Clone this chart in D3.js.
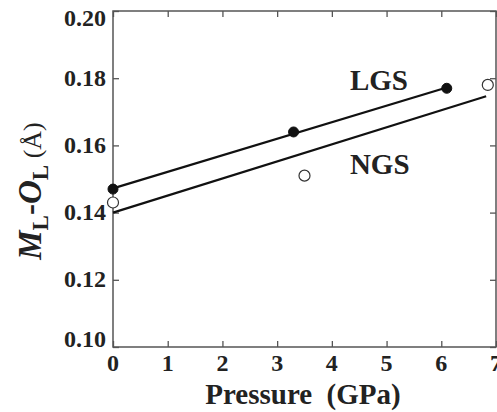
<!DOCTYPE html>
<html>
<head>
<meta charset="utf-8">
<script src="https://cdn.jsdelivr.net/npm/d3@7"></script>
</head>
<body style="margin:0">
<svg id="chart" width="497" height="412"></svg>
<script>
// data
const lgsPressure = [0, 3.3, 6.1];
const lgsValue = [0.147, 0.164, 0.177];
const ngsPressure = [0, 3.5, 6.85];
const ngsValue = [0.143, 0.151, 0.178];
// fitted lines: [x start, x end, intercept, slope]
const lgsFit = [0, 6.1, 0.1472, 0.00492];
const ngsFit = [0, 6.82, 0.1400, 0.00508];
const xTicks = [0, 1, 2, 3, 4, 5, 6, 7];
const yTicks = [0.10, 0.12, 0.14, 0.16, 0.18, 0.20];

const width = 497, height = 412;
const margin = { top: 11, right: 1, bottom: 65, left: 113 };
const serif = '"Liberation Serif"';

const svg = d3.select("#chart");

const x = d3.scaleLinear().domain([0, 7]).range([margin.left, width - margin.right]);
const y = d3.scaleLinear().domain([0.10, 0.20]).range([height - margin.bottom, margin.top]);

const axisColor = "#555";
const tickLen = 6;

// frame
svg.append("rect")
    .attr("x", x(0)).attr("y", y(0.20))
    .attr("width", x(7) - x(0)).attr("height", y(0.10) - y(0.20))
    .attr("fill", "none").attr("stroke", axisColor).attr("stroke-width", 1.5);

// tick marks only, pointing inward on all four sides
const xAxisB = svg.append("g").attr("transform", `translate(0,${y(0.10)})`)
    .call(d3.axisBottom(x).tickValues(xTicks).tickSizeInner(-tickLen).tickSizeOuter(0).tickFormat(""));
const xAxisT = svg.append("g").attr("transform", `translate(0,${y(0.20)})`)
    .call(d3.axisTop(x).tickValues(xTicks).tickSizeInner(-tickLen).tickSizeOuter(0).tickFormat(""));
const yAxisL = svg.append("g").attr("transform", `translate(${x(0)},0)`)
    .call(d3.axisLeft(y).tickValues(yTicks).tickSizeInner(-tickLen).tickSizeOuter(0).tickFormat(""));
const yAxisR = svg.append("g").attr("transform", `translate(${x(7)},0)`)
    .call(d3.axisRight(y).tickValues(yTicks).tickSizeInner(-tickLen).tickSizeOuter(0).tickFormat(""));

[xAxisB, xAxisT, yAxisL, yAxisR].forEach(g => {
    g.select(".domain").remove();
    g.selectAll(".tick text").remove();
    g.selectAll(".tick line").attr("stroke", axisColor).attr("stroke-width", 1.3);
});

// tick labels as plain text elements
svg.selectAll(".xlab").data(xTicks).enter().append("text")
    .attr("class", "xlab")
    .attr("x", d => x(d)).attr("y", y(0.10) + 24)
    .attr("text-anchor", "middle")
    .attr("font-size", 24)
    .text(d3.format("d"));

// end labels sit inside the frame in the original
svg.selectAll(".ylab").data(yTicks).enter().append("text")
    .attr("class", "ylab")
    .attr("x", x(0) - 7).attr("y", d => y(d))
    .attr("dy", d => d === 0.20 ? "0.62em" : d === 0.10 ? "0em" : "0.32em")
    .attr("text-anchor", "end")
    .attr("font-size", 24)
    .text(d3.format(".2f"));

// fit lines
const line = d3.line().x(d => x(d[0])).y(d => y(d[1]));
[lgsFit, ngsFit].forEach(f => {
    const pts = [[f[0], f[2] + f[3] * f[0]], [f[1], f[2] + f[3] * f[1]]];
    svg.append("path").datum(pts)
        .attr("d", line)
        .attr("fill", "none")
        .attr("stroke", "#111")
        .attr("stroke-width", 2.2);
});

// points
svg.selectAll(".lgs").data(lgsPressure.map((p, i) => [p, lgsValue[i]]))
    .enter().append("circle")
    .attr("class", "lgs")
    .attr("cx", d => x(d[0])).attr("cy", d => y(d[1]))
    .attr("r", 5).attr("fill", "#111").attr("stroke", "#111");

svg.selectAll(".ngs").data(ngsPressure.map((p, i) => [p, ngsValue[i]]))
    .enter().append("circle")
    .attr("class", "ngs")
    .attr("cx", d => x(d[0])).attr("cy", d => y(d[1]))
    .attr("r", 5.5).attr("fill", "#fff").attr("stroke", "#333").attr("stroke-width", 1.2);

// series labels
svg.append("text").attr("x", x(4.33)).attr("y", y(0.1765))
    .attr("font-size", 29).text("LGS");
svg.append("text").attr("x", x(4.33)).attr("y", y(0.1515))
    .attr("font-size", 29).text("NGS");

// axis titles
svg.append("text")
    .attr("x", 303).attr("y", 404)
    .attr("text-anchor", "middle")
    .attr("font-size", 29)
    .text("Pressure\u2002(GPa)");

const yTitle = svg.append("text")
    .attr("transform", `translate(41,191) rotate(-90)`)
    .attr("text-anchor", "middle")
    .attr("font-size", 33);
yTitle.append("tspan").attr("font-style", "italic").text("M");
yTitle.append("tspan").attr("dy", 7).attr("font-size", 23).text("L");
yTitle.append("tspan").attr("dy", -7).text("-");
yTitle.append("tspan").attr("font-style", "italic").text("O");
yTitle.append("tspan").attr("dy", 7).attr("font-size", 23).text("L");
yTitle.append("tspan").attr("dy", -7).attr("font-size", 26).text(" (Å)");

// same serif face on every text
svg.selectAll("text")
    .attr("font-family", serif)
    .attr("font-weight", "bold")
    .attr("fill", "#222");
yTitle.select("tspan:last-child").attr("font-weight", "normal");
</script>
</body>
</html>
